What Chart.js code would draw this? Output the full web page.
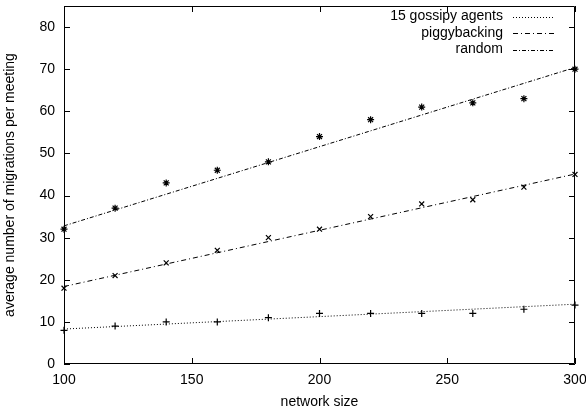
<!DOCTYPE html>
<html>
<head>
<meta charset="utf-8">
<script src="https://cdn.jsdelivr.net/npm/chart.js@4.4.1/dist/chart.umd.min.js"></script>
<style>
html,body{margin:0;padding:0;background:#fff;}
#wrap{width:586px;height:413px;}
</style>
</head>
<body>
<div id="wrap"><canvas id="c" width="586" height="413"></canvas></div>
<script>
// network sizes
const sizes=[100,120,140,160,180,200,220,240,260,280,300];
// measured values
const gossipy=[8,9,10,10,11,12,12,12,12,13,14];
const piggy=[18,21,24,27,30,32,35,38,39,42,45];
const random=[32,37,43,46,48,54,58,61,62,63,70];
// fitted lines, read at x=100 and x=300
const fitX=[100,300];
const gossipyFit=[8.3,14.2];
const piggyFit=[18.4,45.1];
const randomFit=[32.8,70.4];
// axis ticks
const xTicks=[100,150,200,250,300];
const yTicks=[0,10,20,30,40,50,60,70,80];

const FONT="'Liberation Sans', Arial, sans-serif";

let pts=(xs,ys)=>xs.map((x,i)=>({x:x,y:ys[i]}));

let frame={
id:"frame",
afterDraw(chart){
let ctx=chart.ctx;
let a=chart.chartArea;
let xs=chart.scales.x, ys=chart.scales.y;
ctx.save();
ctx.strokeStyle="#000";
ctx.lineWidth=1;
ctx.beginPath();
ctx.rect(a.left+0.5,a.top+0.5,a.right-a.left-1,a.bottom-a.top-1);
ctx.stroke();
ctx.beginPath();
yTicks.forEach(v=>{
let y=Math.round(ys.getPixelForValue(v))+0.5;
ctx.moveTo(a.left,y);ctx.lineTo(a.left+6,y);
ctx.moveTo(a.right,y);ctx.lineTo(a.right-6,y);
});
xTicks.forEach(v=>{
let x=Math.round(xs.getPixelForValue(v))+0.5;
ctx.moveTo(x,a.bottom);ctx.lineTo(x,a.bottom-6);
ctx.moveTo(x,a.top);ctx.lineTo(x,a.top+6);
});
ctx.stroke();

// key, gnuplot style
ctx.font="14px "+FONT;
ctx.fillStyle="#000";
ctx.textAlign="right";
ctx.textBaseline="middle";
let keys=chart.data.datasets.filter(d=>d.key);
keys.forEach((d,i)=>{
let y=16.5+i*16.5;
ctx.fillText(d.label,503,y);
ctx.setLineDash(d.borderDash);
ctx.beginPath();
ctx.moveTo(513,Math.round(y)+0.5);
ctx.lineTo(555,Math.round(y)+0.5);
ctx.stroke();
});
ctx.restore();
}
};

let lineSet=(label,data,dash)=>({
type:"line",label:label,key:true,data:data,
borderColor:"#000",borderWidth:1,borderDash:dash,
pointRadius:0,fill:false,tension:0,clip:false
});
let pointSet=(label,data,style)=>({
type:"scatter",label:label,data:data,
pointStyle:style,pointRadius:3.5,clip:false,
borderColor:"#000",backgroundColor:"#000",borderWidth:1.2
});

new Chart(document.getElementById("c"),{
data:{
datasets:[
lineSet("15 gossipy agents",pts(fitX,gossipyFit),[1,2]),
lineSet("piggybacking",pts(fitX,piggyFit),[5,3,1,3]),
lineSet("random",pts(fitX,randomFit),[4,2,1,2]),
pointSet("gossipy pts",pts(sizes,gossipy),"cross"),
pointSet("piggy pts",pts(sizes,piggy),"crossRot"),
pointSet("random pts",pts(sizes,random),"star")
]
},
options:{
responsive:false,
animation:false,
layout:{padding:{top:6,right:11,left:0,bottom:0}},
plugins:{legend:{display:false},tooltip:{enabled:false}},
scales:{
x:{
type:"linear",min:100,max:300,
grid:{display:false,drawTicks:false},border:{display:false},
afterBuildTicks:s=>{s.ticks=xTicks.map(v=>({value:v}));},
afterFit:s=>{s.height=49;s.paddingLeft=0;s.paddingRight=0;},
ticks:{color:"#000",font:{family:FONT,size:14},padding:8,maxRotation:0},
title:{display:true,text:"network size",color:"#000",font:{family:FONT,size:14},padding:{top:2,bottom:2}}
},
y:{
type:"linear",min:0,max:85,
grid:{display:false,drawTicks:false},border:{display:false},
afterBuildTicks:s=>{s.ticks=yTicks.map(v=>({value:v}));},
afterFit:s=>{s.width=64;s.paddingTop=0;s.paddingBottom=0;},
ticks:{color:"#000",font:{family:FONT,size:14},padding:9},
title:{display:true,text:"average number of migrations per meeting",color:"#000",font:{family:FONT,size:14},padding:{top:2,bottom:2}}
}
}
},
plugins:[frame]
});
</script>
</body>
</html>
